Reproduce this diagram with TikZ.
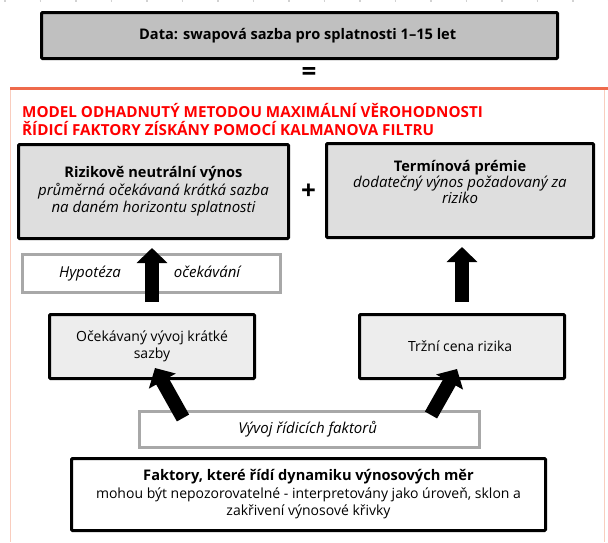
\documentclass[tikz,border=0pt]{standalone}
\usepackage{fontspec}
\setmainfont{Open Sans}
\usetikzlibrary{arrows.meta}
\definecolor{datagray}{HTML}{C0C0C0}
\definecolor{boxgray}{HTML}{DEDEDE}
\definecolor{lightgray}{HTML}{EDEDED}
\definecolor{framegray}{HTML}{A8A8A8}
\definecolor{titlered}{HTML}{FF0000}
\definecolor{rulered}{HTML}{EE6A4B}
\definecolor{edgepink}{HTML}{F9CDBE}
\newcommand\txt{\fontsize{14}{17.5}\selectfont}
\newcommand\headtxt[1]{{\fontsize{14.6}{18.5}\selectfont\bfseries #1}}
\newcommand\subtxt[1]{{\fontsize{15}{18.5}\selectfont\itshape #1}}
\def\lw{3pt}

\begin{document}
\begin{tikzpicture}[x=1pt,y=-1pt,
    blackbox/.style={
      draw=black,line width=\lw,align=center,inner sep=0pt,rounded corners=1pt,font=\txt
    },
    framebox/.style={
      draw=framegray,line width=\lw,fill=white,align=center,inner sep=0pt,font=\txt
    },
    sign/.style={
      font=\fontsize{26}{26}\selectfont\bfseries,inner sep=0pt
    },
    blockarrow/.style={
      line width=14pt,-{Triangle[length=15pt,width=30pt]}
    }
  ]
    \useasboundingbox (0,0) rectangle (608,542);
    \draw[gray!35,line width=1.5pt,dash pattern=on 1.5pt off 34pt] (4,0.8) -- (608,0.8);

    % data
    \node[blackbox,fill=datagray,minimum width=516pt,minimum height=46pt] (data) at (299.5,35.5)
      { \headtxt{Data: swapová sazba pro splatnosti 1–15 let} };
    \node[sign] (eq) at (309,73.5) {=};

    % model frame
    \draw[edgepink,line width=1pt] (10.5,88) -- (10.5,542);
    \draw[edgepink,line width=1pt] (604.5,88) -- (604.5,542);
    \draw[rulered,line width=\lw] (10,88.5) -- (608,88.5);
    \node[anchor=west,align=left,text=titlered,inner sep=0pt,
      font=\fontsize{15.2}{18}\selectfont\bfseries] (title) at (22,119)
      { MODEL ODHADNUTÝ METODOU MAXIMÁLNÍ VĚROHODNOSTI\\ŘÍDICÍ FAKTORY ZÍSKÁNY POMOCÍ KALMANOVA FILTRU };

    % upper boxes
    \node[blackbox,fill=boxgray,minimum width=270pt,minimum height=94pt] (riz) at (153.5,191.5)
      { \headtxt{Rizikově neutrální výnos}\\ \subtxt{průměrná očekávaná krátká sazba}\\
        \subtxt{na daném horizontu splatnosti} };
    \node[sign] (plus) at (308.5,192) {+};
    \node[blackbox,fill=boxgray,minimum width=267pt,minimum height=94pt] (term) at (460,190.5) {};
    \node[align=center,inner sep=0pt] (termtext) at ([yshift=8.5pt]term.center)
      { \headtxt{Termínová prémie}\\ \subtxt{dodatečný výnos požadovaný za}\\ \subtxt{riziko} };

    % hypothesis
    \node[framebox,minimum width=258pt,minimum height=38pt] (hyp) at (151.5,273.5)
      { \subtxt{Hypotéza}\hspace{53pt}\subtxt{očekávání} };

    % middle boxes
    \node[blackbox,fill=lightgray,minimum width=205pt,minimum height=64pt] (ocek) at (152,346.5)
      { Očekávaný vývoj krátké\\ sazby };
    \node[blackbox,fill=lightgray,minimum width=205pt,minimum height=64pt] (trzni) at (462,346.5)
      { Tržní cena rizika };

    % factors
    \node[framebox,minimum width=340pt,minimum height=36pt] (vyvoj) at (309.5,429.5)
      { \subtxt{Vývoj řídicích faktorů} };
    \node[blackbox,fill=white,minimum width=474pt,minimum height=72pt] (fakt) at (308.5,494.5)
      { \headtxt{Faktory, které řídí dynamiku výnosových měr}\\
        mohou být nepozorovatelné - interpretovány jako úroveň, sklon a\\
        zakřivení výnosové křivky };

    % arrows
    \draw[blockarrow,shorten <=11pt,shorten >=8pt] (ocek.north) -- (riz.south -| ocek.north);
    \draw[blockarrow,shorten <=11pt,shorten >=8pt] (trzni.north) -- (term.south -| trzni.north);
    \draw[blockarrow] ([shift={(45,8)}]vyvoj.north west) -- ([shift={(3,-12)}]ocek.south);
    \draw[blockarrow] ([shift={(-50,5)}]vyvoj.north east) -- ([shift={(-5,-11)}]trzni.south);
  \end{tikzpicture}
\end{document}
